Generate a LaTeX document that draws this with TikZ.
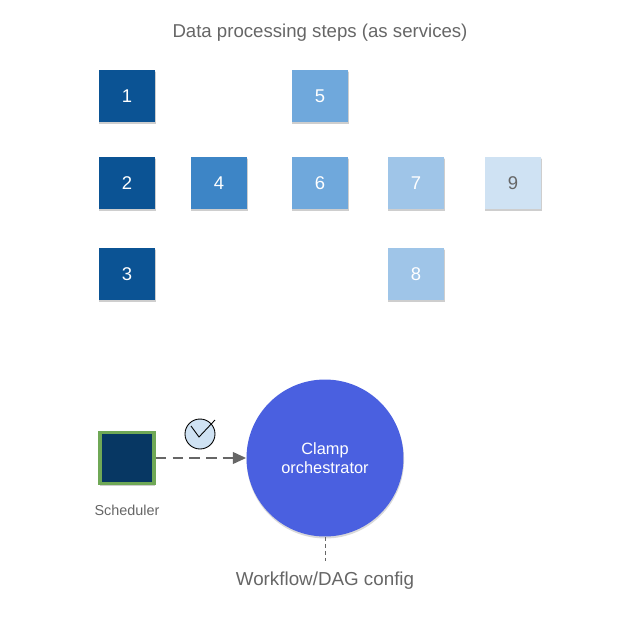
\documentclass[tikz,border=0pt]{standalone}
\usepackage{fontspec}
\setmainfont{Liberation Sans}
\usetikzlibrary{arrows.meta,shadows}
\definecolor{dark}{HTML}{0B5394}
\definecolor{mid}{HTML}{3D85C6}
\definecolor{soft}{HTML}{6FA8DC}
\definecolor{pale}{HTML}{9FC5E8}
\definecolor{faint}{HTML}{CFE2F3}
\definecolor{navy}{HTML}{073763}
\definecolor{leaf}{HTML}{6FA856}
\definecolor{royal}{HTML}{4A60E0}
\definecolor{txt}{HTML}{666666}
\tikzset{
  softshadow/.style={
    drop shadow={shadow xshift=0.3pt,shadow yshift=-0.8pt,shadow scale=1.03,opacity=0.12},
    drop shadow={shadow xshift=0.3pt,shadow yshift=-1.2pt,shadow scale=1.01,opacity=0.3}},
  stepbox/.style={rectangle,minimum width=1.12cm,minimum height=1.04cm,inner sep=0pt,
    text=white,font=\fontsize{10.5}{12}\selectfont,softshadow},
  caption/.style={text=txt,inner sep=0pt}
}

\begin{document}
\begin{tikzpicture}[x=0.02cm,y=-0.02cm]
\useasboundingbox (0,0) rectangle (630,630);
\node[caption,font=\fontsize{10.6}{12}\selectfont] (title) at (320,33) {Data processing steps (as services)};
\begin{scope}[every node/.style={stepbox}]
    \node[fill=dark] (s1) at (127,96) {1};
    \node[fill=dark] (s2) at (127,183) {2};
    \node[fill=dark] (s3) at (127,274) {3};
    \node[fill=mid] (s4) at (219,183) {4};
    \node[fill=soft] (s5) at (320,96) {5};
    \node[fill=soft] (s6) at (320,183) {6};
    \node[fill=pale] (s7) at (416,183) {7};
    \node[fill=pale] (s8) at (416,274) {8};
    \node[fill=faint,text=txt] (s9) at (513,183) {9};
\end{scope}
\node[rectangle,fill=navy,draw=leaf,line width=2.2pt,minimum width=1.08cm,minimum height=1.02cm,inner sep=0pt,
  softshadow] (sched) at (127,458) {};
\node[caption,font=\fontsize{8.2}{10}\selectfont] (schedlabel) at (127,510) {Scheduler};
\node[circle,fill=royal,minimum size=3.14cm,inner sep=0pt,align=center,text=white,
  font=\fontsize{9.3}{11}\selectfont,
  drop shadow={shadow xshift=0.2pt,shadow yshift=-1pt,shadow scale=1.003,opacity=0.3}] (clamp) at (325,458) {Clamp\\orchestrator};
\node[caption,font=\fontsize{10.7}{12}\selectfont] (config) at (325,581) {Workflow/DAG config};
% timer on the trigger
\node[circle,draw=black,fill=faint,line width=0.5pt,minimum size=0.6cm,inner sep=0pt] (clock) at (200,434) {};
\coordinate (hand) at (199,437);
\coordinate (handl) at (191,426);
\coordinate (handr) at (215,420);
\draw[line width=0.5pt] (handl) -- (hand) -- (handr);
% connectors
\coordinate (cfgend) at (325,561);
\draw[txt,line width=1.3pt,dash pattern=on 6pt off 3.5pt,-{Triangle[length=7.5pt,width=6.5pt]}] (sched) -- (clamp);
\draw[txt,line width=0.5pt,dash pattern=on 2.5pt off 1.5pt] (clamp) -- (cfgend);
\end{tikzpicture}
\end{document}
